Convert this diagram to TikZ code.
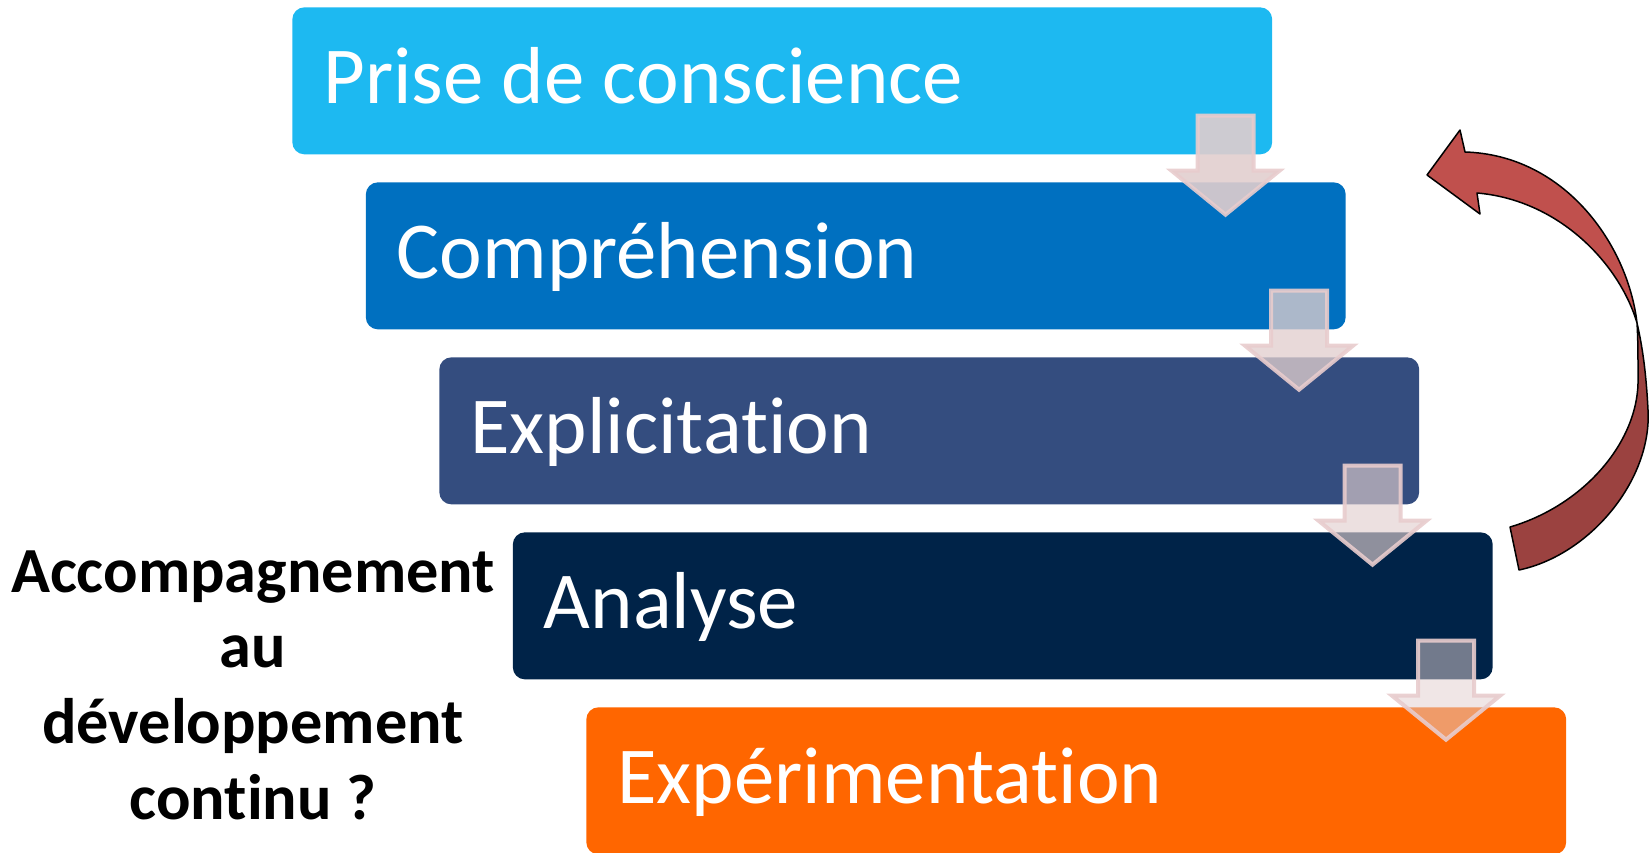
\documentclass[tikz,border=0pt]{standalone}
\usepackage{fontspec}
\setmainfont{Carlito}[Ligatures = {NoCommon, NoContextual}]
\usetikzlibrary{positioning}
\usetikzlibrary{calc}
\definecolor{prisecol}{RGB}{29,185,241}
\definecolor{comprcol}{RGB}{0,112,192}
\definecolor{explcol}{RGB}{52,77,127}
\definecolor{analcol}{RGB}{0,35,72}
\definecolor{expecol}{RGB}{255,102,0}
\definecolor{arrowfill}{RGB}{225,206,206}
\definecolor{arrowline}{RGB}{232,204,205}
\definecolor{loopup}{RGB}{192,80,77}
\definecolor{loopdown}{RGB}{155,66,64}
\tikzset{
  stepbox/.style = {anchor = north west, rounded corners = 0.24cm, inner xsep = 0.62cm, inner ysep = 0,
                    text width = 18.36cm, align = flush left, minimum height = 2.94cm,
                    text height = 1.2cm, text depth = 0.28cm, text = white,
                    font = \fontsize{46}{50}\selectfont},
  steparrow/.pic = {
    \path [fill = arrowfill, draw = arrowline, draw opacity = 0.9, line width = 0.08cm]
      (-28, 2) -- (28, 2) -- (28, 57) -- (54, 57) -- (0, 101) -- (-54, 57) -- (-28, 57) -- cycle;
  }
}

\begin{document}
\begin{tikzpicture}[x = 0.02cm, y = -0.02cm]
    \useasboundingbox (0, 0) rectangle (1649, 852);

    \node [stepbox, fill = prisecol] (prise) at (292, 7) {Prise de conscience};
    \node [stepbox, fill = comprcol] (compr) at ($(prise.north west) + (73.5, 175)$) {Compréhension};
    \node [stepbox, fill = explcol] (expl) at ($(compr.north west) + (73.5, 175)$) {Explicitation};
    \node [stepbox, fill = analcol] (anal) at ($(expl.north west) + (73.5, 175)$) {Analyse};
    \node [stepbox, fill = expecol] (expe) at ($(anal.north west) + (73.5, 175)$) {Expérimentation};

    \pic [shift = {(-47, -41)}, fill opacity = 0.9] at (prise.south east) {steparrow};
    \pic [shift = {(-47, -41)}, fill opacity = 0.77] at (compr.south east) {steparrow};
    \pic [shift = {(-47, -41)}, fill opacity = 0.64] at (expl.south east) {steparrow};
    \pic [shift = {(-47, -41)}, fill opacity = 0.51] at (anal.south east) {steparrow};

    % curved arrow back up
    \draw [fill = loopdown, line width = 0.03cm, line join = round]
      (1510, 527) -- (1519, 570)
      .. controls (1590, 555) and (1652, 480) .. (1648, 410)
      .. controls (1646, 370) and (1642, 345) .. (1637, 323)
      .. controls (1638, 340) and (1638, 355) .. (1638, 377)
      .. controls (1640, 440) and (1585, 505) .. cycle;
    \draw [fill = loopup, line width = 0.03cm, line join = round]
      (1637, 323) .. controls (1628, 245) and (1565, 155) .. (1465, 152)
      -- (1460, 130) -- (1427, 175) -- (1480, 214) -- (1477, 193)
      .. controls (1560, 200) and (1620, 265) .. cycle;

    \node [anchor = north, inner sep = 0, align = center, font = \bfseries\fontsize{36.6}{43.1}\selectfont]
      (question) at (253, 550) {Accompagnement\\au\\développement\\continu ?};
\end{tikzpicture}
\end{document}
